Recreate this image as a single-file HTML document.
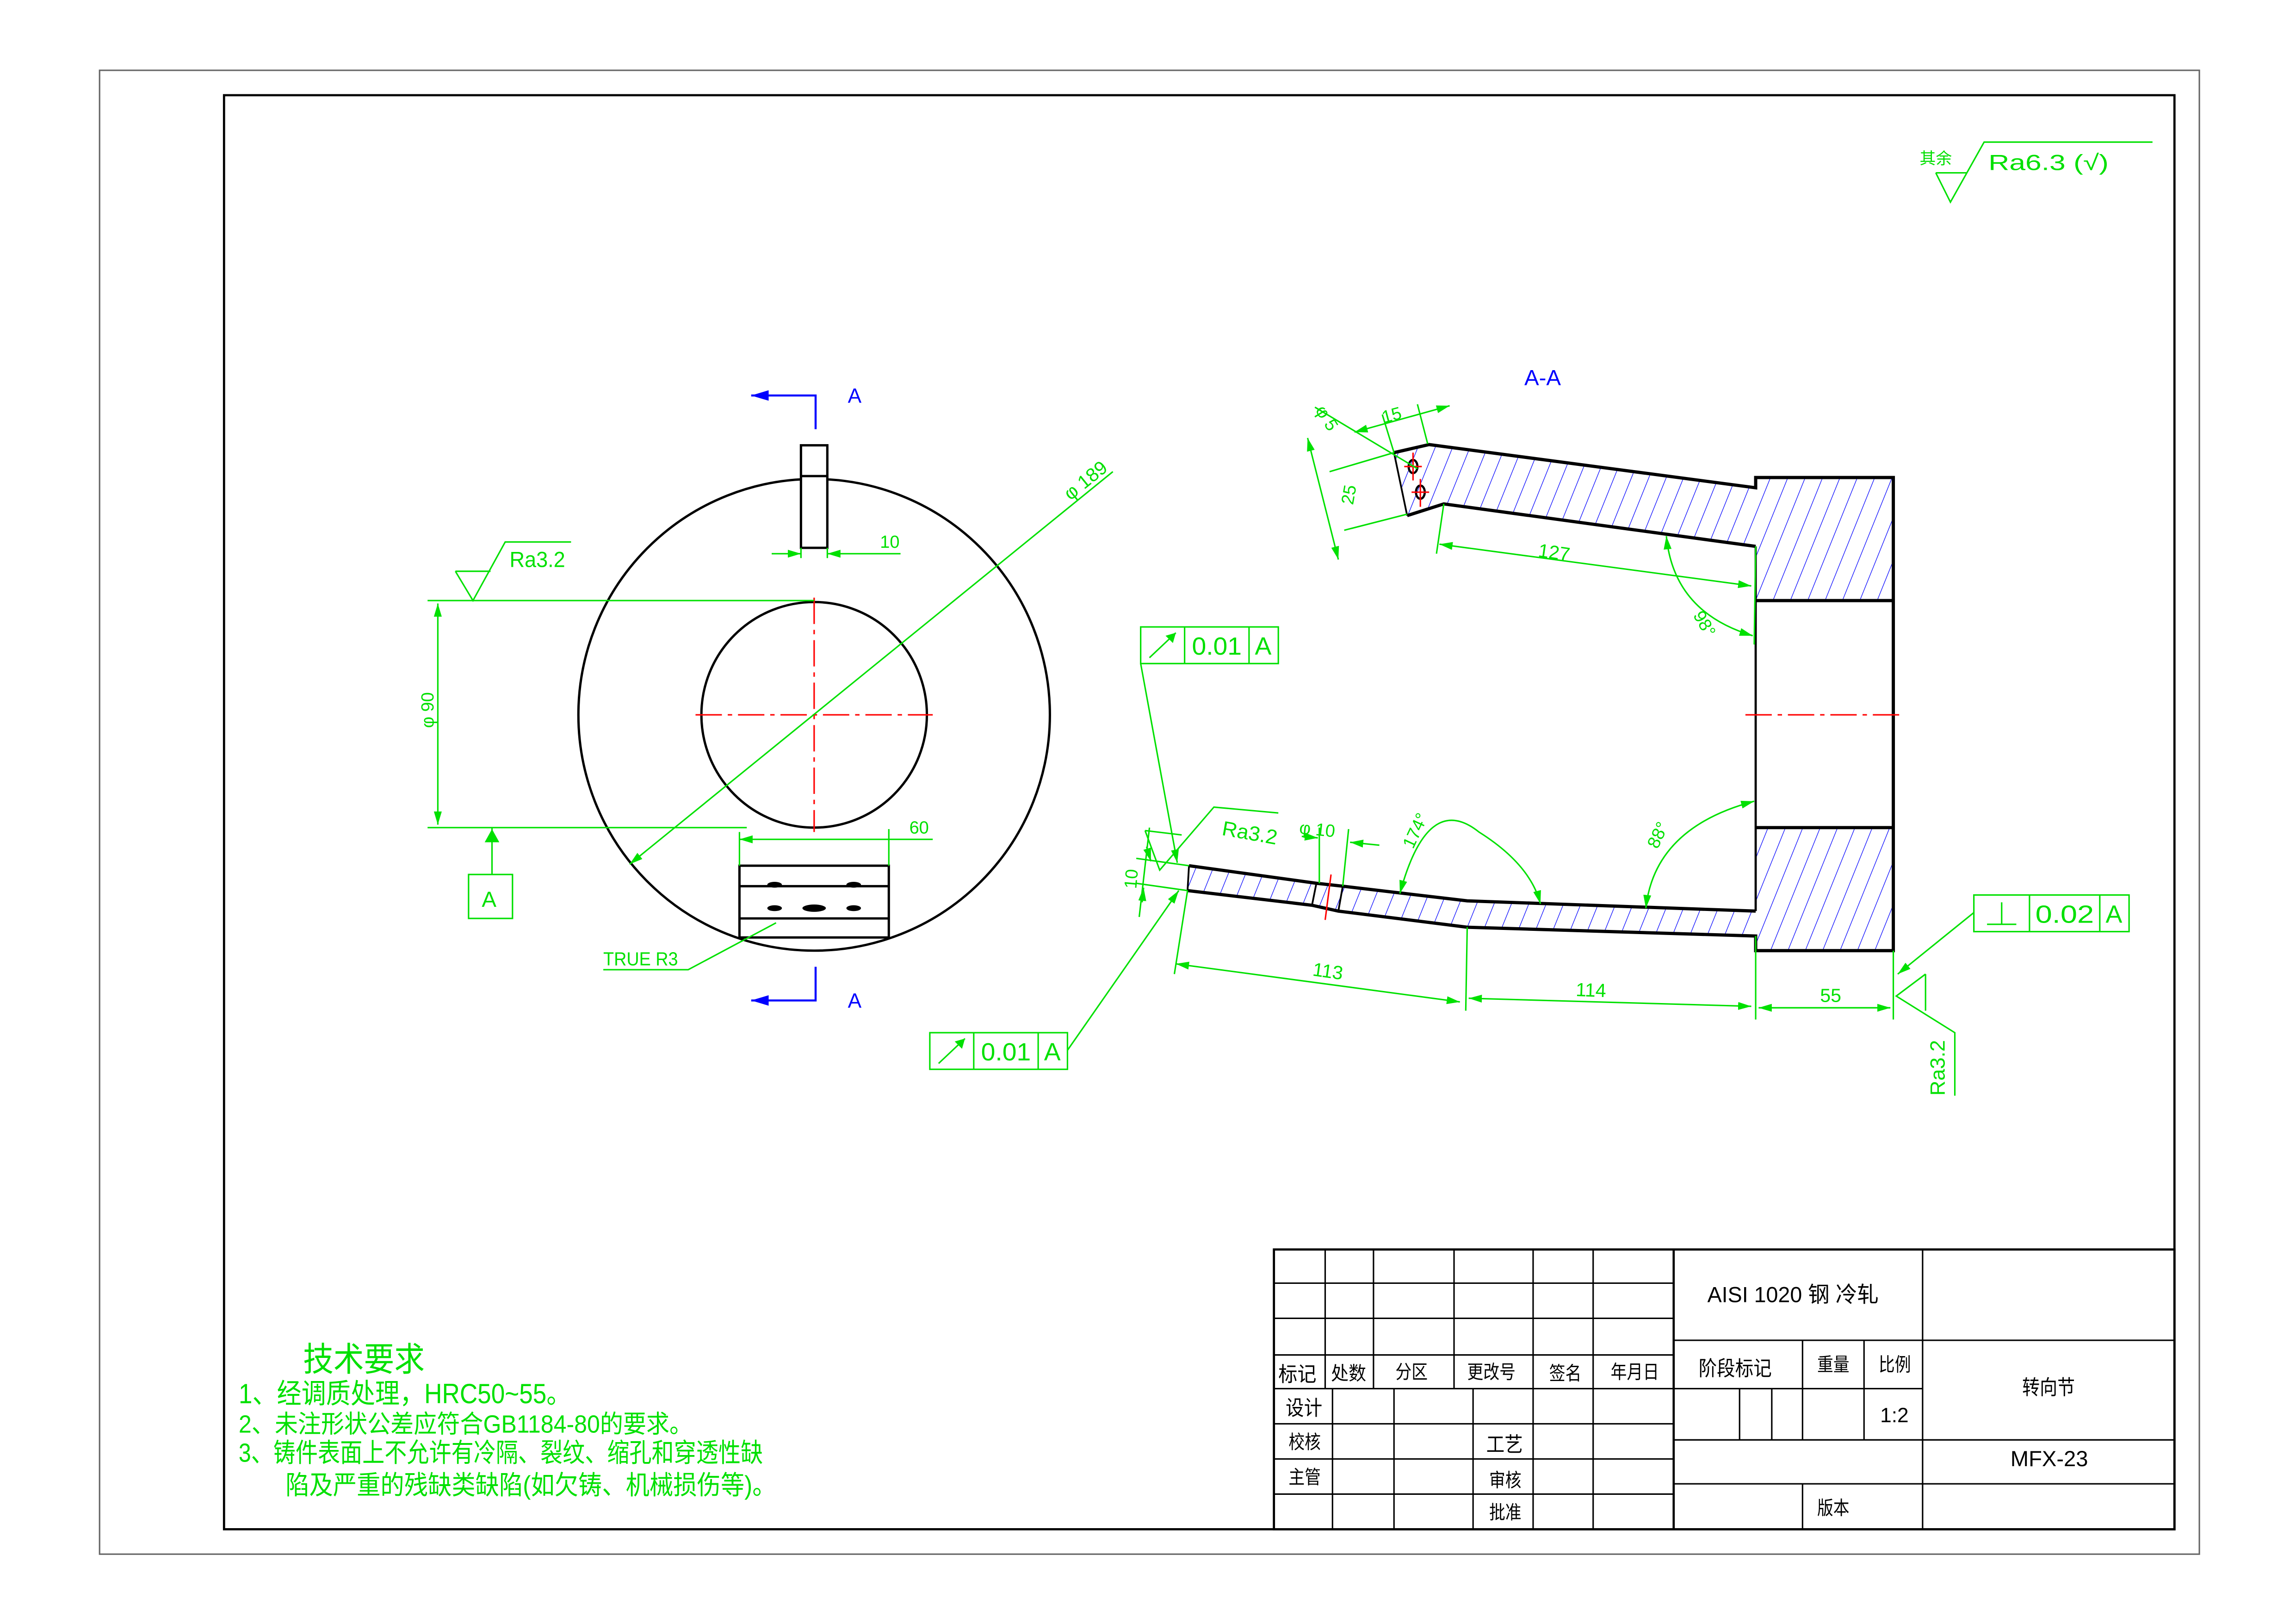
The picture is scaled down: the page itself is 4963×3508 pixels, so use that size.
<!DOCTYPE html>
<html><head><meta charset="utf-8"><style>
html,body{margin:0;padding:0;background:#fff;}
svg{display:block;}
text{font-family:"Liberation Sans Narrow","Liberation Sans","Noto Sans CJK SC",sans-serif;}
.g{fill:#00e000;}
.k{fill:#000;}
</style></head><body>
<svg width="4963" height="3508" viewBox="0 0 1568 1108" preserveAspectRatio="none" xmlns="http://www.w3.org/2000/svg">
<defs>
<pattern id="h" patternUnits="userSpaceOnUse" width="11" height="40" patternTransform="rotate(22)">
<line x1="0" y1="0" x2="0" y2="40" stroke="#0000ff" stroke-width="0.8"/>
</pattern>
<marker id="a" viewBox="0 0 10 10" refX="10" refY="5" markerWidth="9" markerHeight="9" markerUnits="userSpaceOnUse" orient="auto-start-reverse">
<path d="M0,2 L10,5 L0,8 z" fill="#00e000"/></marker>
<marker id="ab" viewBox="0 0 10 10" refX="10" refY="5" markerWidth="12" markerHeight="12" markerUnits="userSpaceOnUse" orient="auto-start-reverse">
<path d="M0,2 L10,5 L0,8 z" fill="#0000ff"/></marker>
</defs>
<rect width="1568" height="1108" fill="#fff"/>
<rect x="68" y="48" width="1434" height="1013" fill="none" stroke="#666" stroke-width="1"/>
<rect x="153" y="65" width="1332" height="979" fill="none" stroke="#000" stroke-width="1.5"/>

<!-- Title block -->
<g stroke="#000" stroke-width="1" fill="none">
<rect x="870" y="853" width="615" height="191" stroke-width="1.5"/>
<line x1="870" y1="876" x2="1143" y2="876"/>
<line x1="870" y1="900" x2="1143" y2="900"/>
<line x1="870" y1="925" x2="1143" y2="925"/>
<line x1="870" y1="948" x2="1143" y2="948"/>
<line x1="870" y1="972" x2="1143" y2="972"/>
<line x1="870" y1="996" x2="1143" y2="996"/>
<line x1="870" y1="1020" x2="1143" y2="1020"/>
<line x1="905" y1="853" x2="905" y2="948"/>
<line x1="938" y1="853" x2="938" y2="948"/>
<line x1="993" y1="853" x2="993" y2="948"/>
<line x1="1047" y1="853" x2="1047" y2="1044"/>
<line x1="1088" y1="853" x2="1088" y2="1044"/>
<line x1="1143" y1="853" x2="1143" y2="1044" stroke-width="1.5"/>
<line x1="910" y1="948" x2="910" y2="1044"/>
<line x1="952" y1="948" x2="952" y2="1044"/>
<line x1="1006" y1="948" x2="1006" y2="1044"/>
<line x1="1143" y1="915" x2="1485" y2="915"/>
<line x1="1143" y1="948" x2="1313" y2="948"/>
<line x1="1143" y1="983" x2="1485" y2="983"/>
<line x1="1143" y1="1013" x2="1485" y2="1013"/>
<line x1="1313" y1="853" x2="1313" y2="1044"/>
<line x1="1231" y1="915" x2="1231" y2="983"/>
<line x1="1273" y1="915" x2="1273" y2="983"/>
<line x1="1188" y1="948" x2="1188" y2="983"/>
<line x1="1210" y1="948" x2="1210" y2="983"/>
<line x1="1231" y1="1013" x2="1231" y2="1044"/>
</g>
<g class="k" font-size="13">
<text x="1166" y="889" font-size="15" textLength="117" lengthAdjust="spacingAndGlyphs">AISI 1020 钢 冷轧</text>
<text x="1160" y="939" font-size="14" textLength="50" lengthAdjust="spacingAndGlyphs">阶段标记</text>
<text x="1241" y="936" textLength="22" lengthAdjust="spacingAndGlyphs">重量</text>
<text x="1283" y="936" textLength="22" lengthAdjust="spacingAndGlyphs">比例</text>
<text x="1284" y="971" font-size="14">1:2</text>
<text x="1381" y="952" font-size="14" textLength="36" lengthAdjust="spacingAndGlyphs">转向节</text>
<text x="1373" y="1001" font-size="15" textLength="53" lengthAdjust="spacingAndGlyphs">MFX-23</text>
<text x="1241" y="1034" textLength="22" lengthAdjust="spacingAndGlyphs">版本</text>
<text x="873" y="943" font-size="14" textLength="26" lengthAdjust="spacingAndGlyphs">标记</text>
<text x="909" y="942" textLength="24" lengthAdjust="spacingAndGlyphs">处数</text>
<text x="953" y="941" textLength="22" lengthAdjust="spacingAndGlyphs">分区</text>
<text x="1002" y="941" textLength="33" lengthAdjust="spacingAndGlyphs">更改号</text>
<text x="1058" y="942" textLength="22" lengthAdjust="spacingAndGlyphs">签名</text>
<text x="1100" y="941" textLength="33" lengthAdjust="spacingAndGlyphs">年月日</text>
<text x="878" y="966" font-size="14" textLength="25" lengthAdjust="spacingAndGlyphs">设计</text>
<text x="880" y="989" textLength="22" lengthAdjust="spacingAndGlyphs">校核</text>
<text x="880" y="1013" textLength="22" lengthAdjust="spacingAndGlyphs">主管</text>
<text x="1015" y="991" font-size="14" textLength="25" lengthAdjust="spacingAndGlyphs">工艺</text>
<text x="1017" y="1015" textLength="22" lengthAdjust="spacingAndGlyphs">审核</text>
<text x="1017" y="1037" textLength="22" lengthAdjust="spacingAndGlyphs">批准</text>
</g>

<!-- Technical requirements -->
<g class="g">
<text x="207" y="936" font-size="23" textLength="83" lengthAdjust="spacingAndGlyphs">技术要求</text>
<text x="163" y="958" font-size="19" textLength="227" lengthAdjust="spacingAndGlyphs">1、经调质处理，HRC50~55。</text>
<text x="163" y="978" font-size="17" textLength="310" lengthAdjust="spacingAndGlyphs">2、未注形状公差应符合GB1184-80的要求。</text>
<text x="163" y="998" font-size="18" textLength="358" lengthAdjust="spacingAndGlyphs">3、铸件表面上不允许有冷隔、裂纹、缩孔和穿透性缺</text>
<text x="195" y="1020" font-size="18" textLength="335" lengthAdjust="spacingAndGlyphs">陷及严重的残缺类缺陷(如欠铸、机械损伤等)。</text>
</g>

<!-- Top right roughness -->
<g stroke="#00e000" stroke-width="1" fill="none">
<polyline points="1322,118 1332,138 1355,97 1470,97"/>
<line x1="1322" y1="118" x2="1343" y2="118"/>
</g>
<text class="g" x="1311" y="112" font-size="11">其余</text>
<text class="g" x="1358" y="116" font-size="15" textLength="82" lengthAdjust="spacingAndGlyphs">Ra6.3 (√)</text>

<!-- LEFT VIEW -->
<g stroke="#000" stroke-width="1.6" fill="none">
<circle cx="556" cy="488" r="161"/>
<circle cx="556" cy="488" r="77"/>
<rect x="547" y="304" width="18" height="70" fill="#fff"/>
<line x1="547" y1="325" x2="565" y2="325"/>
<rect x="505" y="591" width="102" height="49" fill="#fff"/>
<line x1="505" y1="605" x2="607" y2="605"/>
<line x1="505" y1="627" x2="607" y2="627"/>
</g>
<g fill="#000">
<ellipse cx="529" cy="604" rx="5" ry="2"/><ellipse cx="583" cy="604" rx="5" ry="2"/>
<ellipse cx="556" cy="620" rx="8" ry="2.5"/><ellipse cx="529" cy="620" rx="5" ry="2"/><ellipse cx="583" cy="620" rx="5" ry="2"/>
</g>
<g stroke="#ff0000" stroke-width="1" stroke-dasharray="18,4,3,4" fill="none">
<line x1="475" y1="488" x2="637" y2="488"/>
<line x1="556" y1="408" x2="556" y2="568"/>
</g>
<g stroke="#00e000" stroke-width="1" fill="none">
<line x1="292" y1="410" x2="556" y2="410"/>
<line x1="292" y1="565" x2="510" y2="565"/>
<line x1="299" y1="412" x2="299" y2="563" marker-start="url(#a)" marker-end="url(#a)"/>
<line x1="430" y1="590" x2="760" y2="322" marker-start="url(#a)"/>
<line x1="547" y1="374" x2="547" y2="381"/><line x1="565" y1="374" x2="565" y2="381"/>
<line x1="527" y1="378" x2="547" y2="378" marker-end="url(#a)"/>
<line x1="615" y1="378" x2="565" y2="378" marker-end="url(#a)"/>
<line x1="505" y1="568" x2="505" y2="591"/><line x1="607" y1="566" x2="607" y2="591"/>
<line x1="505" y1="573" x2="637" y2="573" marker-start="url(#a)"/>
<polyline points="311,390 323,410 345,370 390,370"/>
<line x1="311" y1="390" x2="335" y2="390"/>
<line x1="336" y1="565" x2="336" y2="597"/>
<rect x="320" y="597" width="30" height="30"/>
<polyline points="412,662 470,662 530,630"/>
</g>
<polygon points="336,566 331,575 341,575" fill="#00e000"/>
<g class="g">
<text x="348" y="387" font-size="15" textLength="38" lengthAdjust="spacingAndGlyphs">Ra3.2</text>
<text x="329" y="619" font-size="15">A</text>
<text x="601" y="374" font-size="12">10</text>
<text x="621" y="569" font-size="12">60</text>
<text x="412" y="659" font-size="13" textLength="51" lengthAdjust="spacingAndGlyphs">TRUE R3</text>
<text transform="translate(296,497) rotate(-90)" font-size="12">φ 90</text>
<text transform="translate(731,342) rotate(-39)" font-size="13">φ 189</text>
</g>
<g stroke="#0000ff" stroke-width="1.4" fill="none">
<polyline points="557,293 557,270 513,270" marker-end="url(#ab)"/>
<polyline points="557,660 557,683 513,683" marker-end="url(#ab)"/>
</g>
<text x="579" y="275" font-size="14" fill="#0000ff">A</text>
<text x="579" y="688" font-size="14" fill="#0000ff">A</text>

<!-- RIGHT SECTION VIEW -->
<text x="1041" y="263" font-size="15" fill="#0000ff">A-A</text>
<polygon points="952,309 976,303.5 1199,333 1199,326 1293,326 1293,410 1199,410 1199,373 986,344 961,352" fill="url(#h)"/>
<polygon points="812,591 899,603 917,605 1002,615 1199,622 1199,565 1293,565 1293,649 1199,649 1199,639 1002,633 914,622 896,618 811,608" fill="url(#h)"/>
<g stroke="#000" stroke-width="2.2" fill="none" stroke-linejoin="miter">
<polyline points="952,309 976,303.5 1199,333 1199,326 1293,326 1293,649 1199,649 1199,639 1002,633 914,622 896,618 811,608"/>
<line x1="952" y1="309" x2="961" y2="352" stroke-width="1.2"/>
<polyline points="961,352 986,344 1199,373"/>
<line x1="1199" y1="410" x2="1293" y2="410"/>
<line x1="1199" y1="565" x2="1293" y2="565"/>
<line x1="1199" y1="373" x2="1199" y2="622" stroke-width="1.5"/>
<polyline points="812,591 899,603 917,605 1002,615 1199,622"/>
<line x1="812" y1="591" x2="811" y2="608" stroke-width="1.2"/>
<line x1="899" y1="603" x2="896" y2="618" stroke-width="1.2"/>
<line x1="917" y1="605" x2="914" y2="622" stroke-width="1.2"/>
</g>
<ellipse cx="965" cy="318.5" rx="3" ry="4.5" fill="none" stroke="#000" stroke-width="1.5"/>
<ellipse cx="970" cy="336" rx="3" ry="4.5" fill="none" stroke="#000" stroke-width="1.5"/>
<g stroke="#ff0000" stroke-width="1" fill="none">
<line x1="959" y1="318.5" x2="971" y2="318.5"/><line x1="965" y1="309" x2="965" y2="328"/>
<line x1="964" y1="336" x2="976" y2="336"/><line x1="970" y1="327" x2="970" y2="346"/>
<line x1="909" y1="597" x2="905" y2="628"/>
<line x1="1192" y1="488" x2="1300" y2="488" stroke-dasharray="18,4,3,4"/>
</g>

<g stroke="#00e000" stroke-width="1" fill="none">
<line x1="893" y1="299" x2="914" y2="382" marker-start="url(#a)" marker-end="url(#a)"/>
<line x1="908" y1="322" x2="952" y2="309"/>
<line x1="918" y1="362" x2="961" y2="351"/>
<line x1="925" y1="295" x2="990" y2="277" marker-start="url(#a)" marker-end="url(#a)"/>
<line x1="944" y1="283" x2="952" y2="309"/>
<line x1="968" y1="276" x2="975" y2="303"/>
<line x1="898" y1="278" x2="968" y2="320"/>
<line x1="981" y1="378" x2="986" y2="344"/>
<line x1="983" y1="371.5" x2="1196" y2="400" marker-start="url(#a)" marker-end="url(#a)"/>
<line x1="1199" y1="373" x2="1198" y2="440"/>
<path d="M1138,366 Q1143,418 1197,434" marker-start="url(#a)" marker-end="url(#a)"/>
<line x1="776" y1="586" x2="812" y2="591"/>
<line x1="776" y1="603" x2="811" y2="608"/>
<line x1="785" y1="565" x2="778" y2="626" />
<line x1="783" y1="578" x2="786" y2="588" marker-end="url(#a)"/>
<line x1="780" y1="616" x2="781" y2="606" marker-end="url(#a)"/>
<polyline points="782,567 792,594 829,551 873,555"/>
<line x1="782" y1="567" x2="807" y2="570"/>
<line x1="901" y1="565" x2="901" y2="603"/>
<line x1="921" y1="566" x2="917" y2="605"/>
<line x1="889" y1="571" x2="900" y2="572" marker-end="url(#a)"/>
<line x1="942" y1="577" x2="922" y2="575" marker-end="url(#a)"/>
<path d="M956,610 Q975,540 1010,568 Q1045,590 1052,617" marker-start="url(#a)" marker-end="url(#a)"/>
<path d="M1124,620 Q1130,565 1198,547" marker-start="url(#a)" marker-end="url(#a)"/>
<line x1="802" y1="665" x2="811" y2="608"/>
<line x1="1001" y1="690" x2="1002" y2="633"/>
<line x1="803" y1="658" x2="997" y2="684" marker-start="url(#a)" marker-end="url(#a)"/>
<line x1="1003" y1="681.5" x2="1196" y2="687" marker-start="url(#a)" marker-end="url(#a)"/>
<line x1="1199" y1="639" x2="1199" y2="696"/>
<line x1="1293" y1="649" x2="1293" y2="696"/>
<line x1="1201" y1="688" x2="1291" y2="688" marker-start="url(#a)" marker-end="url(#a)"/>
<polyline points="1315,665 1295,680 1335,705 1335,748"/>
<line x1="1315" y1="665" x2="1315" y2="690"/>
<line x1="1348" y1="623" x2="1296" y2="665" marker-end="url(#a)"/>
<rect x="779" y="428" width="94" height="25"/>
<line x1="809" y1="428" x2="809" y2="453"/><line x1="853" y1="428" x2="853" y2="453"/>
<line x1="785" y1="449" x2="803" y2="432"/>
<line x1="779" y1="453" x2="804" y2="589" marker-end="url(#a)"/>
<rect x="635" y="705" width="94" height="25"/>
<line x1="665" y1="705" x2="665" y2="730"/><line x1="709" y1="705" x2="709" y2="730"/>
<line x1="641" y1="726" x2="659" y2="709"/>
<line x1="729" y1="717" x2="805" y2="608" marker-end="url(#a)"/>
<rect x="1348" y="611" width="106" height="25"/>
<line x1="1386" y1="611" x2="1386" y2="636"/><line x1="1434" y1="611" x2="1434" y2="636"/>
<line x1="1357" y1="631" x2="1377" y2="631"/><line x1="1367" y1="616" x2="1367" y2="631"/>
</g>
<g fill="#00e000">
<path d="M803,432 l-7,2 l5,5z"/><path d="M659,709 l-7,2 l5,5z"/>
</g>
<g class="g">
<text x="814" y="447" font-size="17" textLength="34" lengthAdjust="spacingAndGlyphs">0.01</text><text x="857" y="447" font-size="17">A</text>
<text x="670" y="724" font-size="17" textLength="34" lengthAdjust="spacingAndGlyphs">0.01</text><text x="713" y="724" font-size="17">A</text>
<text x="1390" y="630" font-size="17" textLength="40" lengthAdjust="spacingAndGlyphs">0.02</text><text x="1438" y="630" font-size="17">A</text>
<text transform="translate(1050,380) rotate(8)" font-size="13">127</text>
<text transform="translate(1156,420) rotate(60)" font-size="12">98°</text>
<text transform="translate(924,345) rotate(-80)" font-size="12">25</text>
<text transform="translate(945,289) rotate(-15)" font-size="12">15</text>
<text transform="translate(898,280) rotate(58)" font-size="12">φ 5</text>
<text transform="translate(776,607) rotate(-85)" font-size="12">10</text>
<text transform="translate(834,570) rotate(10)" font-size="14" textLength="38" lengthAdjust="spacingAndGlyphs">Ra3.2</text>
<text transform="translate(887,569) rotate(6)" font-size="12">φ 10</text>
<text transform="translate(965,580) rotate(-65)" font-size="12">174°</text>
<text transform="translate(1132,580) rotate(-65)" font-size="12">88°</text>
<text transform="translate(896,666) rotate(8)" font-size="13">113</text>
<text transform="translate(1076,680) rotate(2)" font-size="13">114</text>
<text x="1243" y="684" font-size="13">55</text>
<text transform="translate(1328,748) rotate(-90)" font-size="14" textLength="38" lengthAdjust="spacingAndGlyphs">Ra3.2</text>
</g>
</svg>
</body></html>
